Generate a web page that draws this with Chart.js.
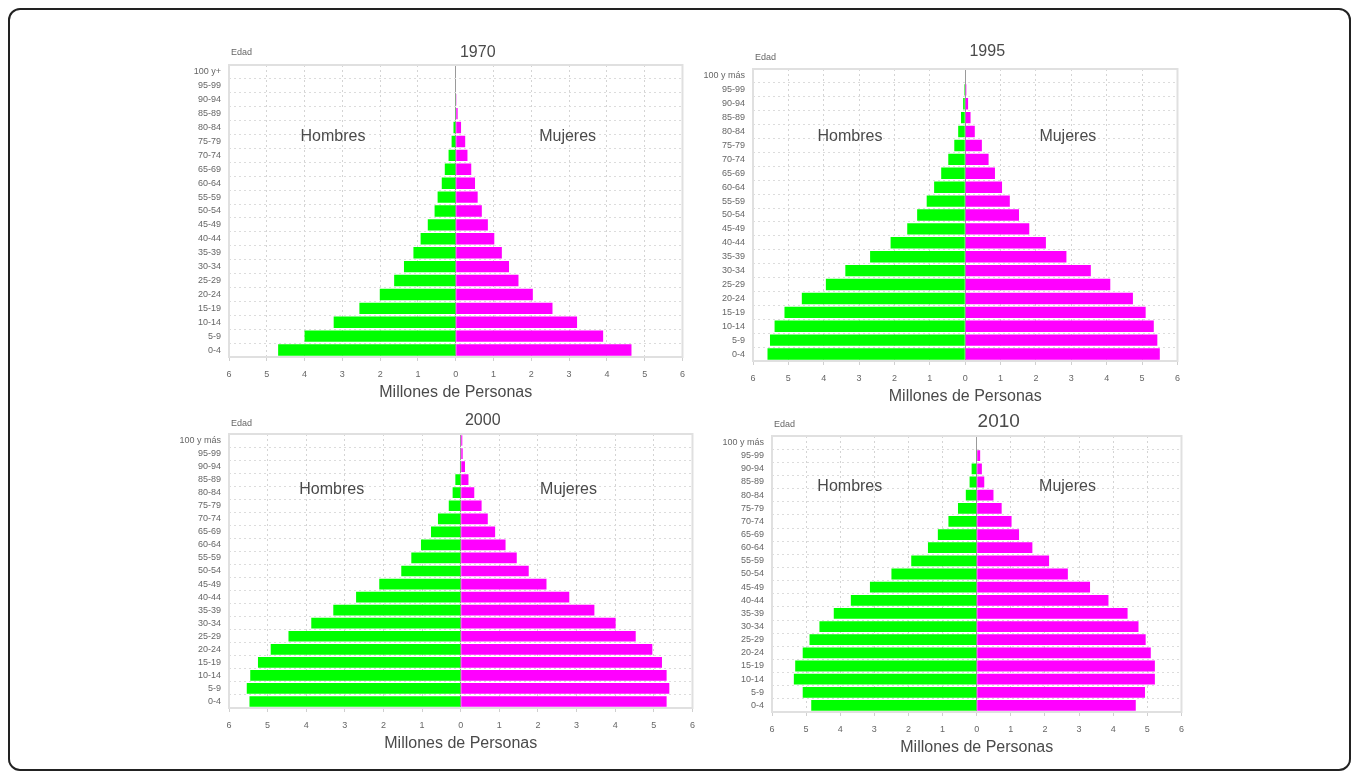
<!DOCTYPE html>
<html lang="es">
<head>
<meta charset="utf-8">
<title>Pirámides de población</title>
<script src="https://cdn.jsdelivr.net/npm/chart.js@4.4.0/dist/chart.umd.min.js"></script>
<style>
    body { margin: 0; background: #fff; }
    #marco {
        position: absolute; left: 8px; top: 8px; width: 1343px; height: 763px;
        border: 2px solid #222; border-radius: 12px; box-sizing: border-box;
    }
    canvas { position: absolute; }
</style>
</head>
<body>
<div id="marco"></div>
<canvas id="g1970" style="left:167px;top:35px" width="526" height="371"></canvas>
<canvas id="g1995" style="left:691px;top:39px" width="497" height="371"></canvas>
<canvas id="g2000" style="left:167px;top:404px" width="536" height="353"></canvas>
<canvas id="g2010" style="left:710px;top:406px" width="482" height="355"></canvas>
<script>
//grupos de edad, de abajo hacia arriba
const edades = ['0-4', '5-9', '10-14', '15-19', '20-24', '25-29', '30-34', '35-39', '40-44', '45-49',
    '50-54', '55-59', '60-64', '65-69', '70-74', '75-79', '80-84', '85-89', '90-94', '95-99', '100 y más'];
const edades1970 = edades.slice(0, 20).concat(['100 y+']);

//millones de personas por grupo de edad
const hombres1970 = [4.70, 4.00, 3.23, 2.55, 2.01, 1.63, 1.37, 1.12, 0.93, 0.74, 0.56, 0.48, 0.37, 0.29, 0.19, 0.11, 0.06, 0.02, 0.01, 0, 0];
const mujeres1970 = [4.65, 3.90, 3.21, 2.56, 2.04, 1.66, 1.41, 1.22, 1.02, 0.85, 0.69, 0.58, 0.51, 0.41, 0.31, 0.25, 0.14, 0.05, 0.02, 0, 0];

const hombres1995 = [5.59, 5.52, 5.39, 5.11, 4.62, 3.94, 3.39, 2.69, 2.11, 1.64, 1.36, 1.09, 0.88, 0.68, 0.48, 0.31, 0.20, 0.12, 0.06, 0.03, 0];
const mujeres1995 = [5.50, 5.43, 5.33, 5.10, 4.74, 4.10, 3.55, 2.86, 2.28, 1.81, 1.52, 1.26, 1.04, 0.84, 0.66, 0.47, 0.27, 0.15, 0.08, 0.03, 0];

const hombres2000 = [5.47, 5.54, 5.45, 5.25, 4.92, 4.46, 3.87, 3.30, 2.71, 2.11, 1.54, 1.28, 1.03, 0.77, 0.59, 0.31, 0.21, 0.14, 0.02, 0, 0];
const mujeres2000 = [5.33, 5.40, 5.33, 5.21, 4.96, 4.53, 4.01, 3.46, 2.81, 2.22, 1.76, 1.45, 1.16, 0.89, 0.70, 0.54, 0.35, 0.20, 0.11, 0.05, 0.04];

const hombres2010 = [4.85, 5.10, 5.36, 5.32, 5.10, 4.90, 4.61, 4.19, 3.69, 3.13, 2.50, 1.92, 1.43, 1.14, 0.83, 0.55, 0.32, 0.21, 0.15, 0.02, 0];
const mujeres2010 = [4.66, 4.93, 5.22, 5.22, 5.10, 4.95, 4.74, 4.42, 3.86, 3.32, 2.67, 2.12, 1.63, 1.24, 1.02, 0.73, 0.49, 0.22, 0.15, 0.10, 0];

const fuente = "'Liberation Sans', Arial, sans-serif";

//textos sueltos: año, Edad, Hombres y Mujeres
const textos = {
    id: 'textos',
    beforeDatasetsDraw(chart) {
        const {ctx, chartArea: a} = chart;
        ctx.save();
        ctx.strokeStyle = '#e0e0e0';
        ctx.lineWidth = 2;
        ctx.strokeRect(a.left, a.top, a.width, a.height);
        ctx.restore();
    },
    afterDraw(chart, args, o) {
        const {ctx, chartArea: a, scales: {x}} = chart;
        const cero = x.getPixelForValue(0);
        ctx.save();
        ctx.fillStyle = '#4a4a4a';
        ctx.textBaseline = 'middle';
        ctx.textAlign = 'center';
        ctx.font = o.tamAnio + 'px ' + fuente;
        ctx.fillText(o.anio, cero + 22, a.top + o.anioY);
        ctx.font = '16px ' + fuente;
        ctx.fillText('Hombres', x.getPixelForValue(o.hx), a.top + o.textoY);
        ctx.fillText('Mujeres', x.getPixelForValue(o.mx), a.top + o.textoY);
        ctx.textAlign = 'left';
        ctx.fillStyle = '#666';
        ctx.font = '9px ' + fuente;
        ctx.fillText('Edad', a.left + 2, a.top + o.edadY);
        ctx.restore();
    }
};

function crearPiramide(id, etiquetas, hombres, mujeres, extra) {
    return new Chart(document.getElementById(id), {
        type: 'bar',
        data: {
            labels: etiquetas,
            datasets: [{
                label: 'Hombres',
                data: hombres.map(v => -v),
                backgroundColor: '#00ff00',
                barPercentage: 0.82,
                categoryPercentage: 1
            }, {
                label: 'Mujeres',
                data: mujeres,
                backgroundColor: '#ff00ff',
                barPercentage: 0.82,
                categoryPercentage: 1
            }]
        },
        options: {
            responsive: false,
            animation: false,
            indexAxis: 'y',
            layout: { padding: { top: 30, right: 10 } },
            plugins: {
                legend: { display: false },
                tooltip: { enabled: false },
                textos: extra
            },
            scales: {
                x: {
                    stacked: true,
                    min: -6,
                    max: 6,
                    ticks: {
                        stepSize: 1,
                        callback: v => Math.abs(v),
                        font: { family: fuente, size: 9 },
                        color: '#666',
                        padding: 8
                    },
                    grid: {
                        color: c => c.tick && c.tick.value === 0 ? '#9a9a9a' : '#d4d4d4',
                        tickColor: '#d0d0d0',
                        tickLength: 4
                    },
                    border: {
                        display: false,
                        dash: c => c.tick && c.tick.value === 0 ? [] : [2, 3]
                    },
                    title: {
                        display: true,
                        text: 'Millones de Personas',
                        font: { family: fuente, size: 16 },
                        color: '#4a4a4a',
                        padding: { top: 0, bottom: 4 }
                    },
                    afterFit(s) { s.height = 49; }
                },
                y: {
                    stacked: true,
                    reverse: true,
                    ticks: {
                        autoSkip: false,
                        font: { family: fuente, size: 9 },
                        color: '#666',
                        padding: 8
                    },
                    grid: { color: '#dcdcdc', drawTicks: false },
                    border: { display: false, dash: [2, 3] },
                    afterFit(s) { s.width = 62; }
                }
            }
        },
        plugins: [textos]
    });
}

crearPiramide('g1970', edades1970, hombres1970, mujeres1970,
    { anio: '1970', tamAnio: 16, anioY: -12, edadY: -12, hx: -3.25, mx: 2.96, textoY: 72 });
crearPiramide('g1995', edades, hombres1995, mujeres1995,
    { anio: '1995', tamAnio: 16, anioY: -17, edadY: -11, hx: -3.26, mx: 2.9, textoY: 68 });
crearPiramide('g2000', edades, hombres2000, mujeres2000,
    { anio: '2000', tamAnio: 16, anioY: -13, edadY: -10, hx: -3.34, mx: 2.79, textoY: 56 });
crearPiramide('g2010', edades, hombres2010, mujeres2010,
    { anio: '2010', tamAnio: 19, anioY: -14, edadY: -11, hx: -3.72, mx: 2.66, textoY: 51 });
</script>
</body>
</html>
